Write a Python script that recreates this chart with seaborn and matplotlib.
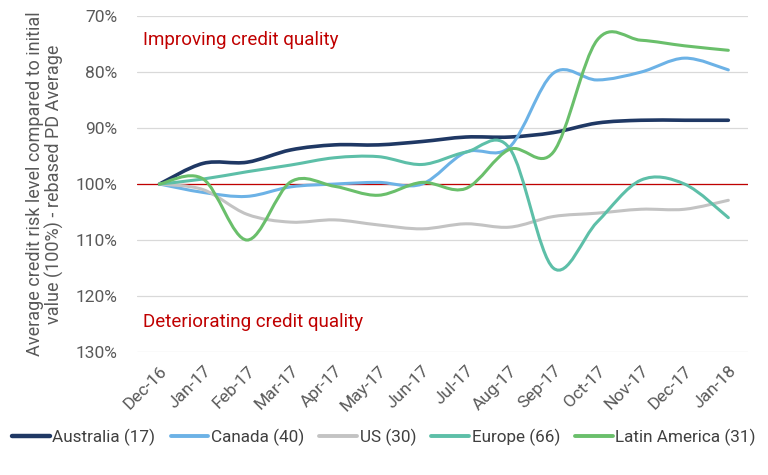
import matplotlib
matplotlib.use("Agg")
import matplotlib.pyplot as plt
from matplotlib.path import Path
from matplotlib.patches import PathPatch
import seaborn as sns
import pandas as pd

months = ["Dec-16", "Jan-17", "Feb-17", "Mar-17", "Apr-17", "May-17", "Jun-17",
          "Jul-17", "Aug-17", "Sep-17", "Oct-17", "Nov-17", "Dec-17", "Jan-18"]

australia = [100, 96.3, 96.1, 93.9, 93.0, 93.0, 92.4, 91.6, 91.6, 90.8, 89.1, 88.6, 88.6, 88.6]
canada = [100, 101.5, 102.2, 100.5, 100.0, 99.7, 100.0, 94.3, 93.4, 80.2, 81.4, 80.0, 77.5, 79.6]
us = [100, 101.0, 105.4, 106.8, 106.4, 107.3, 108.0, 107.1, 107.7, 105.8, 105.2, 104.5, 104.5, 102.9]
europe = [100, 99.1, 97.8, 96.6, 95.3, 95.1, 96.5, 94.3, 93.6, 115.0, 106.8, 99.3, 100.0, 106.0]
latam = [100, 99.1, 110.0, 99.6, 100.4, 102.0, 99.7, 100.8, 93.8, 94.3, 74.3, 74.3, 75.3, 76.1]

series_names = ["Australia (17)", "Canada (40)", "US (30)", "Europe (66)", "Latin America (31)"]
colors = ["#1f3864", "#6cb2e6", "#c3c3c3", "#5dbfa8", "#6abf6b"]
widths = [2.6, 2.2, 2.2, 2.2, 2.2]

rows = []
for name, vals in zip(series_names, [australia, canada, us, europe, latam]):
    for i, v in enumerate(vals):
        rows.append({"idx": i, "value": v, "series": name})
df = pd.DataFrame(rows)

sns.set_theme(style="white")
plt.rcParams["font.family"] = ["Roboto", "DejaVu Sans"]

fig = plt.figure(figsize=(7.68, 4.75), dpi=100)
ax = fig.add_axes([0.178, 0.259, 0.796, 0.707])

sns.lineplot(data=df, x="idx", y="value", hue="series", hue_order=series_names,
             palette=colors, sort=False, linewidth=2.2, ax=ax)


def smooth_path(xs, ys):
    # Excel-like smoothed line: cubic bezier through the points
    n = len(xs)
    verts = [(xs[0], ys[0])]
    codes = [Path.MOVETO]
    for i in range(n - 1):
        x0, y0 = (xs[i - 1], ys[i - 1]) if i > 0 else (xs[i], ys[i])
        x1, y1 = xs[i], ys[i]
        x2, y2 = xs[i + 1], ys[i + 1]
        x3, y3 = (xs[i + 2], ys[i + 2]) if i + 2 < n else (x2, y2)
        c1 = (x1 + (x2 - x0) / 6, y1 + (y2 - y0) / 6)
        c2 = (x2 - (x3 - x1) / 6, y2 - (y3 - y1) / 6)
        verts += [c1, c2, (x2, y2)]
        codes += [Path.CURVE4] * 3
    return Path(verts, codes)


for line, color, lw in zip(list(ax.lines), colors, widths):
    xs, ys = line.get_xdata(), line.get_ydata()
    ax.add_patch(PathPatch(smooth_path(list(xs), list(ys)), facecolor="none",
                           edgecolor=color, linewidth=lw, capstyle="round", zorder=3))
    line.set_visible(False)

ax.axhline(100, color="#c00000", linewidth=0.9, zorder=2)

ax.set_ylim(130, 70)
ax.set_xlim(-0.52, 13.45)
ax.set_yticks([70, 80, 90, 100, 110, 120, 130])
ax.set_yticklabels([f"{v}%" for v in [70, 80, 90, 100, 110, 120, 130]])
ax.set_xticks(range(len(months)))
ax.set_xticklabels(months, rotation=45, ha="right", rotation_mode="anchor")
ax.tick_params(axis="both", colors="#595959", labelsize=12.5, length=0)
ax.tick_params(axis="y", pad=14)
ax.tick_params(axis="x", pad=8)
ax.grid(axis="y", color="#d9d9d9", linewidth=0.9)
ax.set_axisbelow(True)
for s in ax.spines.values():
    s.set_visible(False)

ax.set_xlabel("")
ax.set_ylabel("Average credit risk level compared to initial\nvalue (100%) - rebased PD Average",
              color="#595959", fontsize=13, labelpad=8, linespacing=1.05)

ax.text(-0.38, 74.3, "Improving credit quality", color="#c00000", fontsize=13.5, va="center")
ax.text(-0.38, 124.6, "Deteriorating credit quality", color="#c00000", fontsize=13.5, va="center")

sns.move_legend(ax, "center", bbox_to_anchor=(0.5, 0.08), bbox_transform=fig.transFigure,
                ncol=5, frameon=False, title=None, fontsize=12.3, handlelength=2.2,
                handletextpad=0.15, columnspacing=0.9, labelcolor="#404040")
for h, color, lw in zip(ax.get_legend().legend_handles, colors, widths):
    h.set_linewidth(lw + 0.6)
    h.set_color(color)

fig.savefig("out.png", dpi=100)
